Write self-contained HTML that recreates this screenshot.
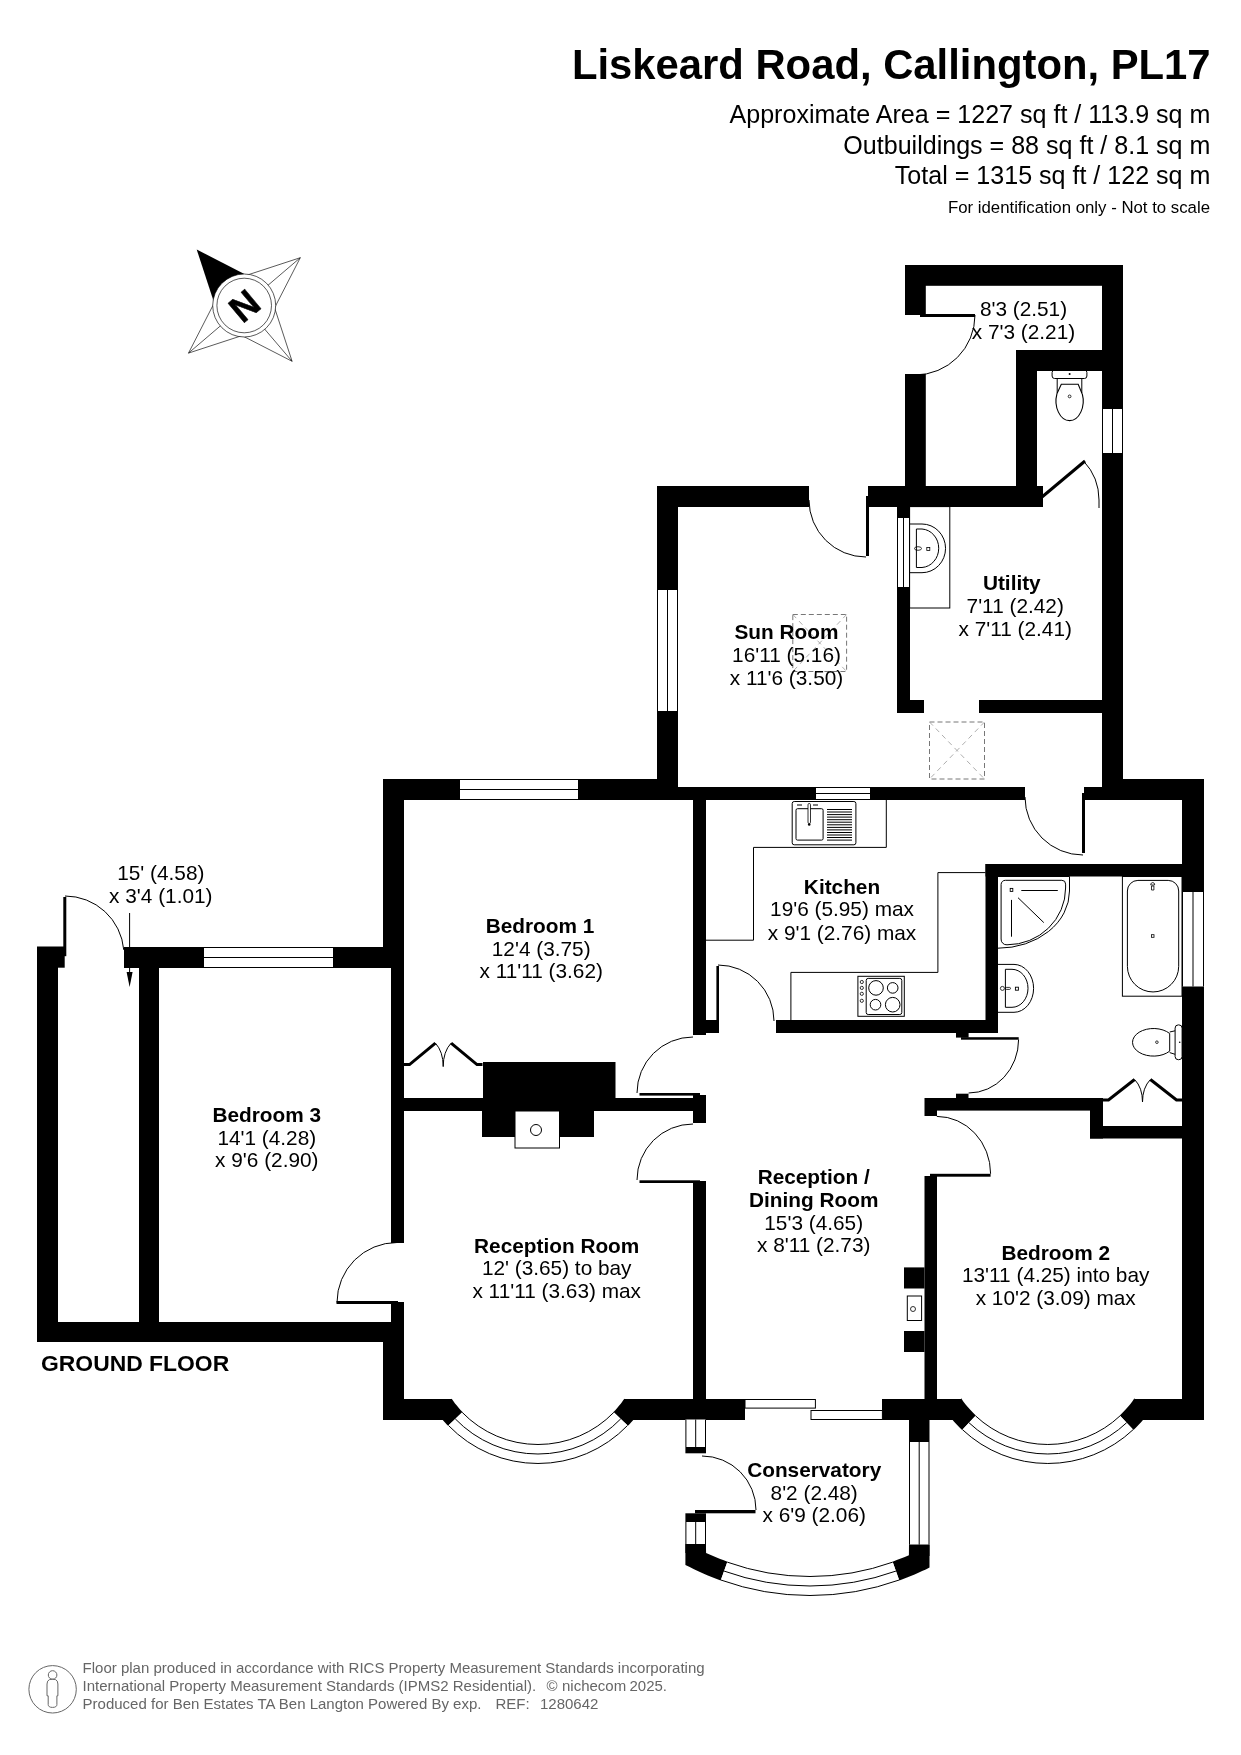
<!DOCTYPE html>
<html>
<head>
<meta charset="utf-8">
<style>
html,body{margin:0;padding:0;background:#fff;}
body{width:1241px;height:1755px;overflow:hidden;position:relative;}
svg{position:absolute;left:0;top:0;will-change:transform;}
text{font-family:"Liberation Sans",sans-serif;fill:#000;}
.h1{font-size:41.8px;font-weight:bold;text-anchor:end;}
.h2{font-size:25.07px;text-anchor:end;}
.h3{font-size:16.8px;text-anchor:end;}
.rb{font-size:20.8px;font-weight:bold;text-anchor:middle;}
.rt{font-size:20.8px;text-anchor:middle;}
.ft{font-size:15px;fill:#666;}
.w{fill:#000;}
.ln{fill:none;stroke:#000;stroke-width:1;}
.win{fill:#fff;stroke:#000;stroke-width:1;}
.sky{fill:none;stroke:#888;stroke-width:1;stroke-dasharray:4 3;}
</style>
</head>
<body>
<svg width="1241" height="1755" viewBox="0 0 1241 1755">
<!-- HEADER -->
<text class="h1" x="1210.6" y="79">Liskeard Road, Callington, PL17</text>
<text class="h2" x="1210.4" y="122.6">Approximate Area = 1227 sq ft / 113.9 sq m</text>
<text class="h2" x="1210.4" y="153.9">Outbuildings = 88 sq ft / 8.1 sq m</text>
<text class="h2" x="1210.4" y="183.8">Total = 1315 sq ft / 122 sq m</text>
<text class="h3" x="1210" y="213.2">For identification only - Not to scale</text>

<!-- COMPASS -->
<g id="compass">
<polygon points="196.7,249.5 214.2,303.0 244.4,305.4 246.8,275.2" fill="#000"/>
<polygon points="300.3,257.7 246.8,275.2 274.6,307.8" fill="#fff" stroke="#000" stroke-width="0.65"/>
<line x1="300.3" y1="257.7" x2="244.4" y2="305.4" stroke="#000" stroke-width="0.65"/>
<polygon points="292.1,361.3 274.6,307.8 242.0,335.6" fill="#fff" stroke="#000" stroke-width="0.65"/>
<line x1="292.1" y1="361.3" x2="244.4" y2="305.4" stroke="#000" stroke-width="0.65"/>
<polygon points="188.5,353.1 242.0,335.6 214.2,303.0" fill="#fff" stroke="#000" stroke-width="0.65"/>
<line x1="188.5" y1="353.1" x2="244.4" y2="305.4" stroke="#000" stroke-width="0.65"/>
<circle cx="244.2" cy="305.5" r="31.5" fill="#fff" stroke="#000" stroke-width="0.65"/>
<circle cx="244.2" cy="305.5" r="27.3" fill="none" stroke="#000" stroke-width="0.65"/>
<text transform="translate(244.3,305.5) rotate(-40)" style="font-size:37px;font-weight:bold;text-anchor:middle;stroke:#000;stroke-width:0.5;" y="13.2">N</text>
</g>

<!-- FOOTER -->
<g id="footer">
<circle cx="52.6" cy="1689.3" r="23.7" fill="none" stroke="#666" stroke-width="1"/>
<circle cx="52.6" cy="1675" r="4.3" fill="none" stroke="#666" stroke-width="1"/>
<path d="M49.5,1679.6 Q47,1680.5 47,1684 V1695.8 H48.2 V1704.5 Q48.2,1707.4 52.5,1707.4 Q56.9,1707.4 56.9,1704.5 V1695.8 H57.9 V1684 Q57.9,1680.5 55.5,1679.6 Q52.5,1678.6 49.5,1679.6 Z" fill="none" stroke="#666" stroke-width="1"/>
<text class="ft" x="82.6" y="1672.8">Floor plan produced in accordance with RICS Property Measurement Standards incorporating</text>
<text class="ft" x="82.6" y="1690.8">International Property Measurement Standards (IPMS2 Residential).</text>
<text class="ft" x="546.5" y="1690.8">©</text>
<text class="ft" x="562" y="1690.8">nichecom</text>
<text class="ft" x="629.5" y="1690.8">2025.</text>
<text class="ft" x="82.6" y="1708.6">Produced for Ben Estates TA Ben Langton Powered By exp.</text>
<text class="ft" x="495.5" y="1708.6">REF:</text>
<text class="ft" x="540" y="1708.6">1280642</text>
</g>

<!-- PLAN -->
<g id="plan">
<rect class="w" x="905.0" y="265.0" width="218.0" height="20.8"/>
<rect class="w" x="905.0" y="265.0" width="20.8" height="50.0"/>
<rect class="w" x="905.0" y="374.0" width="20.8" height="133.0"/>
<rect class="w" x="1102.0" y="265.0" width="21.0" height="144.0"/>
<rect x="1102.0" y="409.0" width="21.0" height="44.0" fill="#fff"/>
<line x1="1102.5" y1="409.0" x2="1102.5" y2="453.0" stroke="#000" stroke-width="1"/>
<line x1="1112.5" y1="409.0" x2="1112.5" y2="453.0" stroke="#000" stroke-width="1"/>
<line x1="1122.5" y1="409.0" x2="1122.5" y2="453.0" stroke="#000" stroke-width="1"/>
<rect class="w" x="1102.0" y="453.0" width="21.0" height="334.0"/>
<rect class="w" x="1016.0" y="350.0" width="86.0" height="21.0"/>
<rect class="w" x="1016.0" y="350.0" width="21.0" height="157.0"/>
<rect class="w" x="868.0" y="486.0" width="175.0" height="21.0"/>
<rect class="w" x="920.0" y="314.0" width="55.0" height="3.0"/>
<path fill="none" stroke="#000" stroke-width="1" d="M975.00,315.00 A60,60 0 0 1 915.00,375.00"/>
<polyline fill="none" stroke="#000" stroke-width="3" points="1042.0,497.0 1085.0,461.0"/>
<path fill="none" stroke="#000" stroke-width="1" d="M1083.69,461.13 A57,57 0 0 1 1099.00,500.00"/>
<polyline fill="none" stroke="#000" stroke-width="1" points="1099.0,500.0 1099.0,508.0"/>
<rect class="w" x="657.0" y="486.0" width="152.0" height="21.0"/>
<rect class="w" x="657.0" y="486.0" width="21.0" height="104.0"/>
<rect x="657.0" y="590.0" width="21.0" height="121.0" fill="#fff"/>
<line x1="657.5" y1="590.0" x2="657.5" y2="711.0" stroke="#000" stroke-width="1"/>
<line x1="667.5" y1="590.0" x2="667.5" y2="711.0" stroke="#000" stroke-width="1"/>
<line x1="677.5" y1="590.0" x2="677.5" y2="711.0" stroke="#000" stroke-width="1"/>
<rect class="w" x="657.0" y="711.0" width="21.0" height="89.0"/>
<rect class="w" x="866.0" y="496.0" width="3.0" height="60.0"/>
<path fill="none" stroke="#000" stroke-width="1" d="M866.00,557.00 A57,57 0 0 1 809.00,500.00"/>
<rect class="w" x="897.0" y="507.0" width="13.0" height="206.0"/>
<rect x="897.0" y="518.0" width="13.0" height="69.0" fill="#fff"/>
<line x1="897.5" y1="518.0" x2="897.5" y2="587.0" stroke="#000" stroke-width="1"/>
<line x1="903.5" y1="518.0" x2="903.5" y2="587.0" stroke="#000" stroke-width="1"/>
<line x1="909.5" y1="518.0" x2="909.5" y2="587.0" stroke="#000" stroke-width="1"/>
<rect class="w" x="897.0" y="700.0" width="27.0" height="13.0"/>
<rect class="w" x="979.0" y="700.0" width="124.0" height="13.0"/>
<rect class="w" x="383.0" y="779.0" width="295.0" height="21.0"/>
<rect x="460.0" y="779.0" width="118.0" height="21.0" fill="#fff"/>
<line x1="460.0" y1="779.5" x2="578.0" y2="779.5" stroke="#000" stroke-width="1"/>
<line x1="460.0" y1="789.5" x2="578.0" y2="789.5" stroke="#000" stroke-width="1"/>
<line x1="460.0" y1="799.5" x2="578.0" y2="799.5" stroke="#000" stroke-width="1"/>
<rect class="w" x="678.0" y="787.0" width="347.0" height="13.0"/>
<rect x="816.0" y="787.0" width="54.0" height="13.0" fill="#fff"/>
<line x1="816.0" y1="787.5" x2="870.0" y2="787.5" stroke="#000" stroke-width="1"/>
<line x1="816.0" y1="793.5" x2="870.0" y2="793.5" stroke="#000" stroke-width="1"/>
<line x1="816.0" y1="799.5" x2="870.0" y2="799.5" stroke="#000" stroke-width="1"/>
<rect class="w" x="1084.0" y="787.0" width="120.0" height="13.0"/>
<rect class="w" x="1102.0" y="779.0" width="102.0" height="21.0"/>
<rect class="w" x="1082.0" y="793.0" width="3.0" height="60.0"/>
<path fill="none" stroke="#000" stroke-width="1" d="M1083.00,855.00 A58,58 0 0 1 1025.00,797.00"/>
<rect class="w" x="383.0" y="779.0" width="21.0" height="189.0"/>
<rect class="w" x="391.0" y="968.0" width="13.0" height="275.0"/>
<rect class="w" x="391.0" y="1302.0" width="13.0" height="40.0"/>
<rect class="w" x="383.0" y="1322.0" width="21.0" height="98.0"/>
<rect class="w" x="693.0" y="800.0" width="13.0" height="235.0"/>
<rect class="w" x="706.0" y="1020.0" width="13.0" height="13.0"/>
<rect class="w" x="404.0" y="1098.0" width="289.0" height="13.0"/>
<rect class="w" x="693.0" y="1095.0" width="13.0" height="28.0"/>
<rect class="w" x="483.0" y="1062.0" width="132.5" height="36.0"/>
<rect class="w" x="482.0" y="1111.0" width="112.0" height="26.0"/>
<rect class="w" x="124.0" y="947.0" width="280.0" height="21.0"/>
<rect x="204.0" y="947.0" width="129.0" height="21.0" fill="#fff"/>
<line x1="204.0" y1="947.5" x2="333.0" y2="947.5" stroke="#000" stroke-width="1"/>
<line x1="204.0" y1="957.5" x2="333.0" y2="957.5" stroke="#000" stroke-width="1"/>
<line x1="204.0" y1="967.5" x2="333.0" y2="967.5" stroke="#000" stroke-width="1"/>
<rect class="w" x="139.0" y="947.0" width="20.0" height="395.0"/>
<rect class="w" x="37.0" y="947.0" width="21.0" height="395.0"/>
<rect class="w" x="37.0" y="946.5" width="27.7" height="21.2"/>
<rect class="w" x="37.0" y="1322.0" width="367.0" height="20.0"/>
<rect class="w" x="336.5" y="1301.0" width="61.5" height="3.0"/>
<path fill="none" stroke="#000" stroke-width="1" d="M337.00,1302.50 A60,60 0 0 1 397.00,1242.50"/>
<rect class="w" x="63.3" y="897.0" width="3.0" height="59.2"/>
<path fill="none" stroke="#000" stroke-width="1" d="M65.00,896.00 A59,59 0 0 1 123.78,949.86"/>
<rect class="w" x="383.0" y="1399.0" width="69.0" height="21.0"/>
<rect class="w" x="693.0" y="1181.0" width="13.0" height="239.0"/>
<rect class="w" x="639.5" y="1180.3" width="60.5" height="2.7"/>
<path fill="none" stroke="#000" stroke-width="1" d="M637.00,1180.00 A56,56 0 0 1 693.00,1124.00"/>
<rect class="w" x="639.5" y="1093.0" width="60.5" height="2.6"/>
<path fill="none" stroke="#000" stroke-width="1" d="M637.00,1093.00 A56,56 0 0 1 693.00,1037.00"/>
<rect class="w" x="776.0" y="1020.0" width="222.0" height="13.0"/>
<rect class="w" x="716.4" y="966.0" width="2.6" height="54.0"/>
<path fill="none" stroke="#000" stroke-width="1" d="M718.00,965.00 A56,56 0 0 1 774.00,1021.00"/>
<rect class="w" x="985.5" y="864.0" width="196.5" height="12.5"/>
<rect class="w" x="985.5" y="864.0" width="12.5" height="168.0"/>
<rect class="w" x="1182.0" y="779.0" width="22.0" height="641.0"/>
<rect x="1182.0" y="892.0" width="22.0" height="94.5" fill="#fff"/>
<line x1="1182.5" y1="892.0" x2="1182.5" y2="986.5" stroke="#000" stroke-width="1"/>
<line x1="1193.0" y1="892.0" x2="1193.0" y2="986.5" stroke="#000" stroke-width="1"/>
<line x1="1203.5" y1="892.0" x2="1203.5" y2="986.5" stroke="#000" stroke-width="1"/>
<rect class="w" x="925.0" y="1098.0" width="178.0" height="12.6"/>
<rect class="w" x="924.5" y="1098.0" width="12.5" height="18.0"/>
<rect class="w" x="1090.0" y="1098.0" width="13.0" height="40.5"/>
<rect class="w" x="1090.0" y="1126.0" width="92.0" height="12.5"/>
<rect class="w" x="956.0" y="1032.8" width="12.6" height="4.8"/>
<rect class="w" x="961.0" y="1037.2" width="57.7" height="2.5"/>
<path fill="none" stroke="#000" stroke-width="1" d="M1018.6,1039.5 A50,53.5 0 0 1 968.6,1093"/>
<rect class="w" x="956.0" y="1093.7" width="12.5" height="4.3"/>
<rect class="w" x="924.5" y="1176.0" width="12.5" height="223.0"/>
<rect class="w" x="930.0" y="1173.8" width="60.6" height="2.9"/>
<path fill="none" stroke="#000" stroke-width="1" d="M936.8,1116.4 A53.8,57.4 0 0 1 990.6,1173.8"/>
<rect class="w" x="904.0" y="1267.4" width="20.5" height="21.1"/>
<rect class="w" x="904.0" y="1331.0" width="20.5" height="21.0"/>
<rect class="w" x="624.0" y="1399.0" width="121.0" height="21.0"/>
<rect class="w" x="882.0" y="1399.0" width="79.0" height="21.0"/>
<rect class="w" x="1134.7" y="1399.0" width="69.3" height="21.0"/>
<rect x="745" y="1399.5" width="70.4" height="8.6" fill="#fff" stroke="#000" stroke-width="1"/>
<rect x="811" y="1410.5" width="71.4" height="9" fill="#fff" stroke="#000" stroke-width="1"/>
<rect x="685.4" y="1419.5" width="20.6" height="27.5" fill="#fff"/>
<line x1="685.9" y1="1419.5" x2="685.9" y2="1447.0" stroke="#000" stroke-width="1"/>
<line x1="695.7" y1="1419.5" x2="695.7" y2="1447.0" stroke="#000" stroke-width="1"/>
<line x1="705.5" y1="1419.5" x2="705.5" y2="1447.0" stroke="#000" stroke-width="1"/>
<rect class="w" x="685.4" y="1447.0" width="20.6" height="6.3"/>
<rect class="w" x="685.4" y="1513.3" width="20.6" height="8.7"/>
<rect x="685.4" y="1522.0" width="20.6" height="22.0" fill="#fff"/>
<line x1="685.9" y1="1522.0" x2="685.9" y2="1544.0" stroke="#000" stroke-width="1"/>
<line x1="695.7" y1="1522.0" x2="695.7" y2="1544.0" stroke="#000" stroke-width="1"/>
<line x1="705.5" y1="1522.0" x2="705.5" y2="1544.0" stroke="#000" stroke-width="1"/>
<rect class="w" x="685.4" y="1544.0" width="20.6" height="9.0"/>
<rect class="w" x="695.0" y="1510.0" width="60.5" height="3.3"/>
<path fill="none" stroke="#000" stroke-width="1" d="M702.00,1456.00 A54,54 0 0 1 756.00,1510.00"/>
<rect class="w" x="909.0" y="1419.5" width="20.5" height="22.5"/>
<rect x="909.0" y="1442.0" width="20.5" height="102.7" fill="#fff"/>
<line x1="909.5" y1="1442.0" x2="909.5" y2="1544.7" stroke="#000" stroke-width="1"/>
<line x1="919.2" y1="1442.0" x2="919.2" y2="1544.7" stroke="#000" stroke-width="1"/>
<line x1="929.0" y1="1442.0" x2="929.0" y2="1544.7" stroke="#000" stroke-width="1"/>
<rect class="w" x="909.0" y="1544.7" width="20.5" height="11.3"/>
<polygon class="w" points="441.8,1419.4 451.4,1398.9 451.7,1398.8 453.3,1401.1 455.0,1403.4 456.8,1405.6 458.6,1407.7 460.5,1409.9 462.5,1411.9 448.1,1425.8 446.5,1424.2 445.0,1422.6 443.6,1420.9 442.1,1419.2"/>
<polygon class="w" points="634.2,1419.4 624.6,1398.9 624.3,1398.8 622.7,1401.1 621.0,1403.4 619.2,1405.6 617.4,1407.7 615.5,1409.9 613.5,1411.9 627.9,1425.8 629.5,1424.2 631.0,1422.6 632.4,1420.9 633.9,1419.2"/>
<polygon fill="#fff" points="613.5,1411.9 610.5,1414.9 607.4,1417.8 604.2,1420.5 600.9,1423.1 597.5,1425.5 594.0,1427.9 590.3,1430.0 586.6,1432.1 582.9,1433.9 579.0,1435.7 575.1,1437.2 571.1,1438.6 567.1,1439.9 563.0,1441.0 558.9,1441.9 554.8,1442.6 550.6,1443.2 546.4,1443.7 542.2,1443.9 538.0,1444.0 533.8,1443.9 529.6,1443.7 525.4,1443.2 521.2,1442.6 517.1,1441.9 513.0,1441.0 508.9,1439.9 504.9,1438.6 500.9,1437.2 497.0,1435.7 493.1,1433.9 489.4,1432.1 485.7,1430.0 482.0,1427.9 478.5,1425.5 475.1,1423.1 471.8,1420.5 468.6,1417.8 465.5,1414.9 462.5,1411.9 448.1,1425.8 451.6,1429.4 455.3,1432.8 459.2,1436.0 463.1,1439.1 467.2,1442.0 471.4,1444.8 475.7,1447.4 480.1,1449.8 484.6,1452.0 489.2,1454.1 493.8,1455.9 498.5,1457.6 503.3,1459.1 508.2,1460.4 513.1,1461.5 518.0,1462.4 523.0,1463.1 528.0,1463.6 533.0,1463.9 538.0,1464.0 543.0,1463.9 548.0,1463.6 553.0,1463.1 558.0,1462.4 562.9,1461.5 567.8,1460.4 572.7,1459.1 577.5,1457.6 582.2,1455.9 586.8,1454.1 591.4,1452.0 595.9,1449.8 600.3,1447.4 604.6,1444.8 608.8,1442.0 612.9,1439.1 616.8,1436.0 620.7,1432.8 624.4,1429.4 627.9,1425.8"/>
<path fill="none" stroke="#000" stroke-width="1" d="M613.89,1412.29 A105.5,105.5 0 0 1 462.11,1412.29"/>
<path fill="none" stroke="#000" stroke-width="1" d="M620.72,1418.89 A115.0,115.0 0 0 1 455.28,1418.89"/>
<path fill="none" stroke="#000" stroke-width="1" d="M627.56,1425.48 A124.5,124.5 0 0 1 448.44,1425.48"/>
<polygon class="w" points="950.5,1419.4 960.9,1398.9 961.2,1398.3 963.3,1401.4 965.6,1404.4 968.0,1407.3 970.5,1410.1 973.1,1412.8 975.8,1415.4 962.1,1430.0 959.3,1427.3 956.7,1424.6 954.1,1421.7 951.6,1418.8"/>
<polygon class="w" points="1145.1,1419.4 1134.7,1398.9 1134.4,1398.3 1132.3,1401.4 1130.0,1404.4 1127.6,1407.3 1125.1,1410.1 1122.5,1412.8 1119.8,1415.4 1133.5,1430.0 1136.3,1427.3 1138.9,1424.6 1141.5,1421.7 1144.0,1418.8"/>
<polygon fill="#fff" points="1119.8,1415.4 1116.9,1418.1 1113.8,1420.6 1110.7,1423.1 1107.5,1425.4 1104.2,1427.6 1100.8,1429.6 1097.3,1431.6 1093.8,1433.4 1090.2,1435.1 1086.5,1436.6 1082.8,1438.0 1079.1,1439.2 1075.3,1440.3 1071.4,1441.3 1067.5,1442.1 1063.6,1442.8 1059.7,1443.3 1055.7,1443.7 1051.8,1443.9 1047.8,1444.0 1043.8,1443.9 1039.9,1443.7 1035.9,1443.3 1032.0,1442.8 1028.1,1442.1 1024.2,1441.3 1020.3,1440.3 1016.5,1439.2 1012.8,1438.0 1009.1,1436.6 1005.4,1435.1 1001.8,1433.4 998.3,1431.6 994.8,1429.6 991.4,1427.6 988.1,1425.4 984.9,1423.1 981.8,1420.6 978.7,1418.1 975.8,1415.4 962.1,1430.0 965.6,1433.1 969.2,1436.2 972.9,1439.1 976.7,1441.8 980.7,1444.5 984.7,1446.9 988.8,1449.2 993.0,1451.4 997.3,1453.4 1001.7,1455.2 1006.1,1456.8 1010.6,1458.3 1015.1,1459.7 1019.7,1460.8 1024.3,1461.8 1029.0,1462.6 1033.7,1463.2 1038.4,1463.6 1043.1,1463.9 1047.8,1464.0 1052.5,1463.9 1057.2,1463.6 1061.9,1463.2 1066.6,1462.6 1071.3,1461.8 1075.9,1460.8 1080.5,1459.7 1085.0,1458.3 1089.5,1456.8 1093.9,1455.2 1098.3,1453.4 1102.6,1451.4 1106.8,1449.2 1110.9,1446.9 1114.9,1444.5 1118.9,1441.8 1122.7,1439.1 1126.4,1436.2 1130.0,1433.1 1133.5,1430.0"/>
<path fill="none" stroke="#000" stroke-width="1" d="M1120.15,1415.78 A105.5,105.5 0 0 1 975.45,1415.78"/>
<path fill="none" stroke="#000" stroke-width="1" d="M1126.67,1422.69 A115.0,115.0 0 0 1 968.93,1422.69"/>
<path fill="none" stroke="#000" stroke-width="1" d="M1133.18,1429.61 A124.5,124.5 0 0 1 962.42,1429.61"/>
<polygon class="w" points="685.4,1544.0 705.9,1544.0 706.1,1552.9 709.6,1554.5 713.1,1556.0 716.6,1557.5 720.2,1559.0 723.8,1560.3 727.4,1561.7 720.7,1580.5 716.1,1578.8 711.6,1577.1 707.2,1575.2 702.7,1573.3 698.3,1571.3 694.0,1569.3 689.7,1567.1 685.4,1564.9"/>
<polygon class="w" points="929.5,1544.7 909.0,1544.7 908.9,1555.2 904.8,1556.9 900.8,1558.6 896.7,1560.1 892.6,1561.7 899.3,1580.5 903.2,1579.1 907.0,1577.6 910.8,1576.1 914.6,1574.5 918.4,1572.8 922.1,1571.1 925.8,1569.4 929.5,1567.5"/>
<polygon fill="#fff" points="892.6,1561.7 888.6,1563.0 884.6,1564.4 880.6,1565.6 876.5,1566.8 872.5,1567.9 868.4,1568.9 864.3,1569.9 860.2,1570.8 856.1,1571.6 851.9,1572.4 847.8,1573.1 843.6,1573.7 839.4,1574.2 835.2,1574.7 831.0,1575.1 826.8,1575.4 822.6,1575.7 818.4,1575.9 814.2,1576.0 810.0,1576.0 805.8,1576.0 801.6,1575.9 797.4,1575.7 793.2,1575.4 789.0,1575.1 784.8,1574.7 780.6,1574.2 776.4,1573.7 772.2,1573.1 768.1,1572.4 763.9,1571.6 759.8,1570.8 755.7,1569.9 751.6,1568.9 747.5,1567.9 743.5,1566.8 739.4,1565.6 735.4,1564.4 731.4,1563.0 727.4,1561.7 720.7,1580.5 725.0,1582.0 729.3,1583.4 733.7,1584.8 738.0,1586.0 742.4,1587.2 746.8,1588.4 751.3,1589.4 755.7,1590.4 760.2,1591.3 764.7,1592.1 769.2,1592.8 773.7,1593.5 778.2,1594.1 782.7,1594.6 787.2,1595.0 791.8,1595.4 796.3,1595.6 800.9,1595.8 805.4,1596.0 810.0,1596.0 814.6,1596.0 819.1,1595.8 823.7,1595.6 828.2,1595.4 832.8,1595.0 837.3,1594.6 841.8,1594.1 846.3,1593.5 850.8,1592.8 855.3,1592.1 859.8,1591.3 864.3,1590.4 868.7,1589.4 873.2,1588.4 877.6,1587.2 882.0,1586.0 886.3,1584.8 890.7,1583.4 895.0,1582.0 899.3,1580.5"/>
<path fill="none" stroke="#000" stroke-width="1" d="M892.76,1562.13 A245.5,245.5 0 0 1 727.24,1562.13"/>
<path fill="none" stroke="#000" stroke-width="1" d="M895.96,1571.07 A255.0,255.0 0 0 1 724.04,1571.07"/>
<path fill="none" stroke="#000" stroke-width="1" d="M899.16,1580.02 A264.5,264.5 0 0 1 720.84,1580.02"/>
<rect x="515" y="1111" width="44.5" height="37" fill="#fff" stroke="#000" stroke-width="1"/>
<circle cx="536" cy="1130" r="5.5" fill="none" stroke="#000" stroke-width="1"/>
<rect x="907.3" y="1296" width="14.3" height="24.5" fill="#fff" stroke="#000" stroke-width="1"/>
<circle cx="913" cy="1309" r="2.5" fill="none" stroke="#000" stroke-width="0.8"/>
<rect x="792.8" y="614.5" width="53.80000000000007" height="57.0" fill="none" stroke="#777" stroke-width="1" stroke-dasharray="5 3"/>
<path d="M792.8,614.5 L846.6,671.5 M846.6,614.5 L792.8,671.5" fill="none" stroke="#999" stroke-width="0.8" stroke-dasharray="5 4"/>
<rect x="929.5" y="722" width="55.0" height="57" fill="none" stroke="#777" stroke-width="1" stroke-dasharray="5 3"/>
<path d="M929.5,722 L984.5,779 M984.5,722 L929.5,779" fill="none" stroke="#999" stroke-width="0.8" stroke-dasharray="5 4"/>
<polyline fill="none" stroke="#000" stroke-width="1" points="706.0,940.2 753.5,940.2 753.5,847.4 886.3,847.4 886.3,800.0"/>
<polyline fill="none" stroke="#000" stroke-width="1" points="790.9,1020.0 790.9,972.4 937.9,972.4 937.9,872.6 985.5,872.6"/>
<rect x="792.2" y="801.5" width="63.7" height="43.3" rx="2" fill="none" stroke="#000" stroke-width="1"/>
<rect x="796" y="808.7" width="27.1" height="31.4" rx="1.5" fill="none" stroke="#000" stroke-width="1"/>
<line x1="827" y1="809.5" x2="852" y2="809.5" stroke="#000" stroke-width="1"/>
<line x1="827" y1="812.0" x2="852" y2="812.0" stroke="#000" stroke-width="1"/>
<line x1="827" y1="814.6" x2="852" y2="814.6" stroke="#000" stroke-width="1"/>
<line x1="827" y1="817.1" x2="852" y2="817.1" stroke="#000" stroke-width="1"/>
<line x1="827" y1="819.7" x2="852" y2="819.7" stroke="#000" stroke-width="1"/>
<line x1="827" y1="822.2" x2="852" y2="822.2" stroke="#000" stroke-width="1"/>
<line x1="827" y1="824.8" x2="852" y2="824.8" stroke="#000" stroke-width="1"/>
<line x1="827" y1="827.4" x2="852" y2="827.4" stroke="#000" stroke-width="1"/>
<line x1="827" y1="829.9" x2="852" y2="829.9" stroke="#000" stroke-width="1"/>
<line x1="827" y1="832.5" x2="852" y2="832.5" stroke="#000" stroke-width="1"/>
<line x1="827" y1="835.0" x2="852" y2="835.0" stroke="#000" stroke-width="1"/>
<line x1="827" y1="837.5" x2="852" y2="837.5" stroke="#000" stroke-width="1"/>
<line x1="827" y1="840.1" x2="852" y2="840.1" stroke="#000" stroke-width="1"/>
<rect x="808" y="803.5" width="2.5" height="20" rx="1.2" fill="#fff" stroke="#000" stroke-width="0.8"/>
<circle cx="809.2" cy="824.5" r="1.3" fill="#000"/>
<path d="M797,805 h5 M813,805 h5" stroke="#000" stroke-width="1"/>
<rect x="857.9" y="976.3" width="46.4" height="40" fill="none" stroke="#000" stroke-width="1"/>
<rect x="866.2" y="978.4" width="35.6" height="36.1" rx="2" fill="none" stroke="#000" stroke-width="1"/>
<circle cx="876" cy="987.9" r="7.3" fill="none" stroke="#000" stroke-width="1"/>
<circle cx="892.7" cy="987.9" r="5.3" fill="none" stroke="#000" stroke-width="1"/>
<circle cx="875.5" cy="1004.7" r="5.3" fill="none" stroke="#000" stroke-width="1"/>
<circle cx="892.7" cy="1004.7" r="7.3" fill="none" stroke="#000" stroke-width="1"/>
<circle cx="861.8" cy="982" r="1.6" fill="none" stroke="#000" stroke-width="0.8"/>
<circle cx="861.8" cy="987.9" r="1.6" fill="none" stroke="#000" stroke-width="0.8"/>
<circle cx="861.8" cy="993.8" r="1.6" fill="none" stroke="#000" stroke-width="0.8"/>
<circle cx="861.8" cy="1000.8" r="1.6" fill="none" stroke="#000" stroke-width="0.8"/>
<rect x="909.6" y="506.6" width="40.2" height="101.4" fill="none" stroke="#000" stroke-width="1"/>
<path fill="none" stroke="#000" stroke-width="1" d="M909.6,524 H922 A23.5,24.3 0 0 1 922,572.7 H909.6"/>
<path fill="none" stroke="#000" stroke-width="1" d="M916.4,529 H922 A18,19.3 0 0 1 922,567.5 H916.4 Z"/>
<rect x="926.8" y="547.5" width="3" height="3" fill="none" stroke="#000" stroke-width="0.8"/>
<ellipse cx="918" cy="548.5" rx="3.5" ry="1.8" fill="none" stroke="#000" stroke-width="0.8"/>
<rect x="1052.1" y="370" width="34.8" height="8.5" rx="2.5" fill="none" stroke="#000" stroke-width="1"/>
<path fill="none" stroke="#000" stroke-width="1.1" d="M1056.9,394 A13.6,19.6 0 1 0 1082.3,394"/>
<polyline fill="none" stroke="#000" stroke-width="1" points="1057.2,378.5 1057.2,393.0"/>
<polyline fill="none" stroke="#000" stroke-width="1" points="1081.8,378.5 1081.8,393.0"/>
<polyline fill="none" stroke="#000" stroke-width="1.1" points="1056.8,394.0 1061.3,384.3 1078.2,384.3 1082.2,394.0"/>
<circle cx="1069.6" cy="396.4" r="1.4" fill="none" stroke="#000" stroke-width="0.8"/>
<circle cx="1069.6" cy="374" r="1" fill="#000"/>
<path fill="none" stroke="#000" stroke-width="1" d="M998,876.5 H1069.5 V891 A71.5,57.2 0 0 1 998,948.2"/>
<path fill="none" stroke="#000" stroke-width="1" d="M1005.5,880.3 H1061.8 A3.8,3.8 0 0 1 1065.6,884.1 V888 A58.6,56.8 0 0 1 1007,944.8 A5.5,5.5 0 0 1 1001.1,939 V884.5 A4.2,4.2 0 0 1 1005.5,880.3 Z"/>
<rect x="1010.2" y="888.4" width="2.6" height="3" fill="none" stroke="#000" stroke-width="0.9"/>
<polyline fill="none" stroke="#000" stroke-width="1" points="1021.3,890.5 1057.8,890.5"/>
<polyline fill="none" stroke="#000" stroke-width="1" points="1011.5,899.9 1011.5,936.7"/>
<polyline fill="none" stroke="#000" stroke-width="1" points="1018.0,897.7 1043.8,922.6"/>
<path fill="none" stroke="#000" stroke-width="1" d="M998,964.4 H1014 A19.6,23.95 0 0 1 1014,1012.3 H998"/>
<path fill="none" stroke="#000" stroke-width="1" d="M1005.4,969.3 H1012 A16,19 0 0 1 1012,1007.3 H1005.4 Z"/>
<rect x="1015.4" y="987.2" width="3" height="3" fill="none" stroke="#000" stroke-width="0.9"/>
<circle cx="1002.4" cy="988.4" r="2" fill="none" stroke="#000" stroke-width="0.8"/>
<rect x="1005.5" y="987.4" width="5" height="2" rx="1" fill="none" stroke="#000" stroke-width="0.8"/>
<rect x="1122.4" y="876.5" width="59.6" height="119.7" fill="none" stroke="#000" stroke-width="1"/>
<path fill="none" stroke="#000" stroke-width="1" d="M1127.4,891 A10.5,10.5 0 0 1 1137.9,880.4 H1168.2 A10.5,10.5 0 0 1 1178.7,891 V966.3 A25.65,25.65 0 0 1 1127.4,966.3 Z"/>
<rect x="1151.4" y="934.7" width="2.6" height="2.6" fill="none" stroke="#000" stroke-width="0.8"/>
<path fill="#fff" stroke="#000" stroke-width="0.8" d="M1151.5,886 h2.4 v4 h-2.4 z M1150.8,884 a2,2 0 0 1 3.8,0 v1 h-3.8 z"/>
<rect x="1175.1" y="1024.9" width="7" height="34.8" rx="3.2" fill="none" stroke="#000" stroke-width="1"/>
<path fill="none" stroke="#000" stroke-width="1" d="M1169.7,1033.5 A21,13.8 0 1 0 1169.7,1051.1 Z"/>
<polyline fill="none" stroke="#000" stroke-width="1" points="1169.7,1032.0 1175.1,1030.8"/>
<polyline fill="none" stroke="#000" stroke-width="1" points="1169.7,1052.6 1175.1,1054.3"/>
<circle cx="1156.9" cy="1042.2" r="1.3" fill="none" stroke="#000" stroke-width="0.8"/>
<circle cx="1179.7" cy="1042.2" r="0.8" fill="#000"/>
<polyline fill="none" stroke="#000" stroke-width="3" points="404.0,1064.6 409.5,1064.6 435.4,1043.1"/>
<polyline fill="none" stroke="#000" stroke-width="3" points="482.5,1064.6 477.0,1064.6 451.1,1043.1"/>
<path fill="none" stroke="#000" stroke-width="1" d="M435.4,1043.1 Q443.2,1051.7 443.2,1066.6"/>
<path fill="none" stroke="#000" stroke-width="1" d="M451.1,1043.1 Q443.2,1051.7 443.2,1066.6"/>
<polyline fill="none" stroke="#000" stroke-width="3" points="1103.0,1100.0 1108.5,1100.0 1134.6,1079.5"/>
<polyline fill="none" stroke="#000" stroke-width="3" points="1182.0,1100.0 1176.5,1100.0 1150.4,1079.5"/>
<path fill="none" stroke="#000" stroke-width="1" d="M1134.6,1079.5 Q1142.5,1087.7 1142.5,1102.0"/>
<path fill="none" stroke="#000" stroke-width="1" d="M1150.4,1079.5 Q1142.5,1087.7 1142.5,1102.0"/>
<polyline fill="none" stroke="#000" stroke-width="1" points="129.6,913.0 129.6,976.0"/>
<polygon fill="#000" points="126.6,972.0 132.6,972.0 129.6,987.0"/>
<text class="rt" x="1023.5" y="316.3">8'3 (2.51)</text>
<text class="rt" x="1023.5" y="339.4">x 7'3 (2.21)</text>
<text class="rb" x="786.5" y="639.1">Sun Room</text>
<text class="rt" x="786.5" y="661.9">16'11 (5.16)</text>
<text class="rt" x="786.5" y="685.0">x 11'6 (3.50)</text>
<text class="rb" x="1011.8" y="590.0">Utility</text>
<text class="rt" x="1015.2" y="612.9">7'11 (2.42)</text>
<text class="rt" x="1015.2" y="635.5">x 7'11 (2.41)</text>
<text class="rb" x="540.0" y="932.8">Bedroom 1</text>
<text class="rt" x="541.2" y="955.7">12'4 (3.75)</text>
<text class="rt" x="541.2" y="977.7">x 11'11 (3.62)</text>
<text class="rb" x="266.8" y="1121.7">Bedroom 3</text>
<text class="rt" x="266.8" y="1144.6">14'1 (4.28)</text>
<text class="rt" x="266.8" y="1166.6">x 9'6 (2.90)</text>
<text class="rt" x="160.8" y="879.8">15' (4.58)</text>
<text class="rt" x="160.8" y="902.8">x 3'4 (1.01)</text>
<text class="rb" x="556.7" y="1252.6">Reception Room</text>
<text class="rt" x="556.7" y="1275.2">12' (3.65) to bay</text>
<text class="rt" x="556.7" y="1298.3">x 11'11 (3.63) max</text>
<text class="rb" x="842.0" y="893.6">Kitchen</text>
<text class="rt" x="842.0" y="916.2">19'6 (5.95) max</text>
<text class="rt" x="842.0" y="939.5">x 9'1 (2.76) max</text>
<text class="rb" x="813.7" y="1184.0">Reception /</text>
<text class="rb" x="813.7" y="1206.7">Dining Room</text>
<text class="rt" x="813.7" y="1229.7">15'3 (4.65)</text>
<text class="rt" x="813.7" y="1252.0">x 8'11 (2.73)</text>
<text class="rb" x="1055.7" y="1259.5">Bedroom 2</text>
<text class="rt" x="1055.7" y="1282.1">13'11 (4.25) into bay</text>
<text class="rt" x="1055.7" y="1305.2">x 10'2 (3.09) max</text>
<text class="rb" x="814.2" y="1476.8">Conservatory</text>
<text class="rt" x="814.2" y="1499.5">8'2 (2.48)</text>
<text class="rt" x="814.2" y="1522.1">x 6'9 (2.06)</text>
<text x="41" y="1370.8" style="font-size:22.9px;font-weight:bold;">GROUND FLOOR</text>
</g>
</svg>
</body>
</html>
